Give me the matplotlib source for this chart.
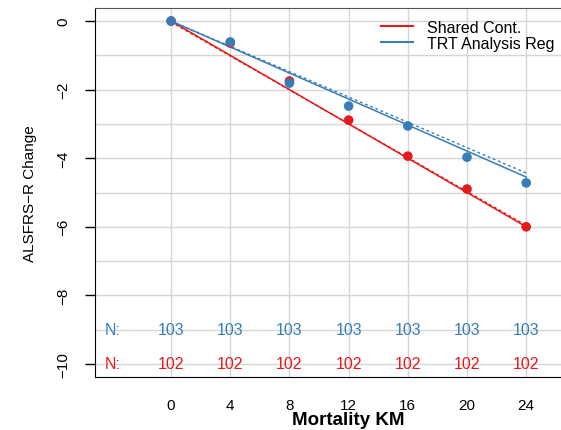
import numpy as np
import matplotlib.pyplot as plt
import matplotlib.transforms as mtransforms

plt.rcParams['font.family'] = ['Liberation Sans', 'DejaVu Sans']

# 数据
months = [0, 4, 8, 12, 16, 20, 24]
shared_cont = [0, -0.64, -1.75, -2.89, -3.94, -4.90, -6.00]
trt_reg = [0, -0.61, -1.81, -2.48, -3.06, -3.97, -4.72]
shared_fit = [0, -6.00]
shared_fit2 = [-0.03, -5.96]
trt_fit = [0, -4.55]
trt_fit2 = [0, -4.43]
n_shared = [102, 102, 102, 102, 102, 102, 102]
n_trt = [103, 103, 103, 103, 103, 103, 103]

red = '#E41A1C'
blue = '#377EB8'

fig = plt.figure(figsize=(5.61, 4.31), dpi=100)
# 轴右边超出画布
ax = fig.add_axes([95 / 561, 1 - 378 / 431, (578 - 95) / 561, (378 - 9) / 431])
ax.set_xlim(-5.14, 27.5)
ax.set_ylim(-10.38, 0.38)

for y in range(-10, 1):
    ax.axhline(y, color='#d6d6d6', lw=1, zorder=0)
for x in months:
    ax.axvline(x, color='#d6d6d6', lw=1, zorder=0)

ends = [months[0], months[-1]]
ax.plot(ends, shared_fit, color=red, lw=1.1, zorder=2)
ax.plot(ends, shared_fit2, color=red, lw=1, ls=(0, (2, 2)), zorder=2)
ax.plot(ends, trt_fit, color=blue, lw=1.1, zorder=2)
ax.plot(ends, trt_fit2, color=blue, lw=1, ls=(0, (2, 2)), zorder=2)

ax.scatter(months, shared_cont, color=red, s=48, zorder=3, edgecolors='none')
ax.scatter(months, trt_reg, color=blue, s=48, zorder=4, edgecolors='none')

# N 标签
ax.text(-4.5, -9, 'N:', color=blue, fontsize=11.5, ha='left', va='center')
ax.text(-4.5, -10, 'N:', color=red, fontsize=11.5, ha='left', va='center')
for x, a, b in zip(months, n_trt, n_shared):
    ax.text(x, -9, str(a), color=blue, fontsize=11.5, ha='center', va='center')
    ax.text(x, -10, str(b), color=red, fontsize=11.5, ha='center', va='center')

ax.set_yticks(range(-10, 1, 2))
ax.set_yticklabels([str(v) if v == 0 else '\u2212' + str(-v) for v in range(-10, 1, 2)],
                   rotation=90, va='center', fontsize=11)
ax.tick_params(axis='y', length=7, width=1, pad=11)
ax.set_xticks([])

trans = mtransforms.blended_transform_factory(ax.transData, fig.transFigure)
for x in months:
    ax.text(x, 1 - 406 / 431, str(x), transform=trans, ha='center', va='center', fontsize=11)
ax.text(12, 1 - 421 / 431, 'Mortality KM', transform=trans, ha='center', va='center',
        fontsize=13.5, fontweight='bold')

ax.set_ylabel('ALSFRS\u2212R Change', fontsize=11, labelpad=14)

ax.spines['top'].set_color('#555555')
ax.spines['left'].set_color('black')
ax.spines['bottom'].set_color('black')

ax.plot([], [], color=red, lw=1.5, label='Shared Cont.')
ax.plot([], [], color=blue, lw=1.5, label='TRT Analysis Reg')
ax.legend(loc='upper left', bbox_to_anchor=(381 / 561, 1 - 21 / 431), bbox_transform=fig.transFigure,
          frameon=False, fontsize=11.5, handlelength=2.0, handletextpad=0.9,
          labelspacing=0.05, borderaxespad=0, borderpad=0)

fig.savefig('out.png', dpi=100)
